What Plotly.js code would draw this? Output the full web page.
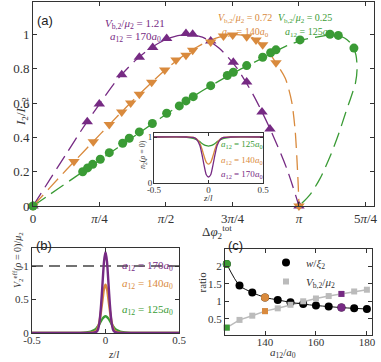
<!DOCTYPE html>
<html>
<head>
<meta charset="utf-8">
<script src="https://cdn.plot.ly/plotly-3.0.1.min.js"></script>
<style>
  html, body { margin: 0; padding: 0; background: #fff; }
  #plot { width: 381px; height: 362px; }
</style>
</head>
<body>
<div id="plot"></div>
<script>
// ---- panel (a): simulation points, I2/Ic,2 vs total phase drop ----
const purpleX = [0, 0.641, 0.783, 1.048, 1.256, 1.414, 1.579, 1.807, 1.886, 2.099, 2.366, 2.524, 2.705, 2.799, 3.1416];
const purpleY = [0, 0.492, 0.595, 0.765, 0.868, 0.924, 0.977, 1.006, 1.002, 0.963, 0.839, 0.724, 0.548, 0.449, 0];
const orangeX = [0, 0.484, 0.712, 0.901, 1.048, 1.154, 1.256, 1.402, 1.556, 1.689, 1.807, 1.886, 2.099, 2.250, 2.359, 2.524, 2.634, 2.713, 2.870, 3.1416];
const orangeY = [0, 0.259, 0.375, 0.476, 0.549, 0.601, 0.652, 0.722, 0.794, 0.852, 0.879, 0.908, 0.957, 0.992, 0.998, 0.988, 0.969, 0.940, 0.835, 0];
const greenX = [0, 0.587, 0.645, 0.705, 0.795, 0.901, 1.059, 1.137, 1.256, 1.410, 1.579, 1.728, 1.807, 1.893, 2.099, 2.295, 2.366, 2.524, 2.713, 2.807, 2.870, 3.154, 3.508, 3.606, 3.791];
const greenY = [0, 0.200, 0.222, 0.243, 0.273, 0.311, 0.366, 0.395, 0.432, 0.481, 0.541, 0.584, 0.613, 0.638, 0.702, 0.761, 0.780, 0.819, 0.868, 0.894, 0.911, 0.969, 1.002, 0.995, 0.921];

// dashed theory curves
const purpleCurveX = [0, 0.2, 0.4, 0.6, 0.8, 1.0, 1.2, 1.4, 1.6, 1.8, 2.0, 2.2, 2.4, 2.6, 2.8, 3.0, 3.1416];
const purpleCurveY = [0, 0.155, 0.31, 0.463, 0.605, 0.74, 0.845, 0.925, 0.978, 1.0, 0.985, 0.92, 0.81, 0.65, 0.45, 0.215, 0];
const orangeCurveX = [0, 0.2, 0.4, 0.6, 0.8, 1.0, 1.2, 1.4, 1.6, 1.8, 2.0, 2.2, 2.4, 2.6, 2.75, 2.87, 2.98, 3.055, 3.095, 3.117, 3.133, 3.1416];
const orangeCurveY = [0, 0.107, 0.214, 0.318, 0.422, 0.525, 0.625, 0.72, 0.81, 0.885, 0.945, 0.985, 1.0, 0.98, 0.92, 0.835, 0.745, 0.61, 0.45, 0.28, 0.12, 0];
const greenCurveX = [0, 0.2, 0.4, 0.6, 0.8, 1.0, 1.2, 1.4, 1.6, 1.8, 2.0, 2.2, 2.4, 2.6, 2.8, 3.0, 3.2, 3.4, 3.55, 3.68, 3.77, 3.815, 3.828, 3.81, 3.76, 3.69, 3.61, 3.51, 3.39, 3.27, 3.1416];
const greenCurveY = [0, 0.068, 0.136, 0.204, 0.272, 0.34, 0.408, 0.476, 0.544, 0.61, 0.672, 0.73, 0.785, 0.835, 0.885, 0.935, 0.97, 0.99, 1.0, 0.98, 0.94, 0.88, 0.8, 0.72, 0.64, 0.54, 0.42, 0.29, 0.16, 0.065, 0];

const phaseTicks = [0, Math.PI / 4, Math.PI / 2, 3 * Math.PI / 4, Math.PI, 5 * Math.PI / 4];
const phaseLabels = ['0', '<i>π</i>/4', '<i>π</i>/2', '3<i>π</i>/4', '<i>π</i>', '5<i>π</i>/4'];

// ---- inset: density at the barrier centre ----
const insetZ = [-0.5, -0.2, -0.14, -0.11, -0.08, -0.06, -0.04, -0.02, 0, 0.02, 0.04, 0.06, 0.08, 0.11, 0.14, 0.2, 0.5];
const n2Purple = [1, 1, 0.99, 0.95, 0.82, 0.62, 0.38, 0.18, 0.13, 0.18, 0.38, 0.62, 0.82, 0.95, 0.99, 1, 1];
const n2Orange = [1, 1, 0.99, 0.96, 0.87, 0.74, 0.58, 0.45, 0.41, 0.45, 0.58, 0.74, 0.87, 0.96, 0.99, 1, 1];
const n2Green = [1, 0.995, 0.97, 0.94, 0.9, 0.86, 0.83, 0.81, 0.8, 0.81, 0.83, 0.86, 0.9, 0.94, 0.97, 0.995, 1];

// ---- panel (b): effective barrier ----
const bZ = [-0.5, -0.2, -0.15, -0.12, -0.1, -0.08, -0.06, -0.05, -0.04, -0.03, -0.02, -0.01, 0, 0.01, 0.02, 0.03, 0.04, 0.05, 0.06, 0.08, 0.1, 0.12, 0.15, 0.2, 0.5];
const vPurple = [0, 0, 0, 0, 0, 0.005, 0.02, 0.06, 0.18, 0.42, 0.75, 1.07, 1.21, 1.07, 0.75, 0.42, 0.18, 0.06, 0.02, 0.005, 0, 0, 0, 0, 0];
const vOrange = [0, 0, 0, 0, 0.003, 0.012, 0.04, 0.09, 0.18, 0.33, 0.5, 0.66, 0.72, 0.66, 0.5, 0.33, 0.18, 0.09, 0.04, 0.012, 0.003, 0, 0, 0, 0];
const vGreen = [0, 0, 0.005, 0.012, 0.022, 0.04, 0.075, 0.105, 0.14, 0.18, 0.215, 0.24, 0.25, 0.24, 0.215, 0.18, 0.14, 0.105, 0.075, 0.04, 0.022, 0.012, 0.005, 0, 0];

// ---- panel (c): ratios vs a12 ----
const a12 = [125, 130, 135, 140, 145, 150, 155, 160, 165, 170, 175, 180];
const wRatio = [2.06, 1.45, 1.25, 1.11, 1.04, 0.97, 0.92, 0.88, 0.85, 0.82, 0.80, 0.78];
const vRatio = [0.25, 0.47, 0.59, 0.72, 0.80, 0.90, 1.00, 1.08, 1.15, 1.21, 1.28, 1.33];
const highlighted = [125, 140, 170];

const PURPLE = '#762a83';
const ORANGE = '#d98a3d';
const GREEN = '#3a9b35';
const highlightColors = {125: GREEN, 140: ORANGE, 170: PURPLE};
const SERIF = 'Liberation Serif, DejaVu Serif, serif';
const SANS = 'Liberation Sans, Arial, sans-serif';

const dash = '15px,7px';
let traces = [];

// theory curves in (a)
[[purpleCurveX, purpleCurveY, PURPLE], [orangeCurveX, orangeCurveY, ORANGE], [greenCurveX, greenCurveY, GREEN]].forEach(c => {
    traces.push({
        x: c[0], y: c[1], xaxis: 'x', yaxis: 'y', type: 'scatter', mode: 'lines',
        line: {color: c[2], width: 1.3, dash: dash, shape: 'spline', smoothing: 0.8},
        showlegend: false, hoverinfo: 'skip'
    });
});
// simulation markers in (a)
[[purpleX, purpleY, PURPLE, 'triangle-up'], [orangeX, orangeY, ORANGE, 'triangle-down'], [greenX, greenY, GREEN, 'circle']].forEach(s => {
    traces.push({
        x: s[0], y: s[1], xaxis: 'x', yaxis: 'y', type: 'scatter', mode: 'markers',
        marker: {color: s[2], symbol: s[3], size: s[3] == 'circle' ? 9 : 10},
        cliponaxis: false, showlegend: false
    });
});

// inset
[[n2Green, GREEN], [n2Orange, ORANGE], [n2Purple, PURPLE]].forEach(c => {
    traces.push({
        x: insetZ, y: c[0], xaxis: 'x2', yaxis: 'y2', type: 'scatter', mode: 'lines',
        line: {color: c[1], width: 1.3, shape: 'spline', smoothing: 0.7},
        showlegend: false
    });
});

// panel (b)
traces.push({
    x: [-0.5, 0.5], y: [1, 1], xaxis: 'x3', yaxis: 'y3', type: 'scatter', mode: 'lines',
    line: {color: '#444', width: 1.6, dash: '11px,6px'}, showlegend: false
});
[[vGreen, GREEN], [vOrange, ORANGE], [vPurple, PURPLE]].forEach(c => {
    traces.push({
        x: bZ, y: c[0], xaxis: 'x3', yaxis: 'y3', type: 'scatter', mode: 'lines',
        line: {color: c[1], width: 2.4, shape: 'spline', smoothing: 0.6},
        showlegend: false
    });
});

// panel (c)
traces.push({
    x: a12, y: vRatio, xaxis: 'x4', yaxis: 'y4', type: 'scatter', mode: 'lines',
    line: {color: '#bbbbbb', width: 1.5}, showlegend: false
});
traces.push({
    x: a12, y: wRatio, xaxis: 'x4', yaxis: 'y4', type: 'scatter', mode: 'lines',
    line: {color: '#111', width: 1, shape: 'spline', smoothing: 0.8}, showlegend: false
});
traces.push({
    x: a12, y: wRatio, xaxis: 'x4', yaxis: 'y4', type: 'scatter', mode: 'markers',
    marker: {color: '#000', size: 8, symbol: 'circle'}, cliponaxis: false,
    name: '<i>w</i>/<i>ξ</i><sub>2</sub>'
});
traces.push({
    x: a12, y: vRatio, xaxis: 'x4', yaxis: 'y4', type: 'scatter', mode: 'markers',
    marker: {color: '#bbbbbb', size: 6, symbol: 'square'}, cliponaxis: false,
    name: '<i>V</i><sub>b,2</sub>/<i>μ</i><sub>2</sub>'
});
const hiIdx = highlighted.map(a => a12.indexOf(a));
traces.push({
    x: highlighted, y: hiIdx.map(i => wRatio[i]), xaxis: 'x4', yaxis: 'y4', type: 'scatter', mode: 'markers',
    marker: {color: highlighted.map(a => highlightColors[a]), size: 8, symbol: 'circle'},
    cliponaxis: false, showlegend: false
});
traces.push({
    x: highlighted, y: hiIdx.map(i => vRatio[i]), xaxis: 'x4', yaxis: 'y4', type: 'scatter', mode: 'markers',
    marker: {color: highlighted.map(a => highlightColors[a]), size: 6, symbol: 'square'},
    cliponaxis: false, showlegend: false
});

function frame(extra) {
    return Object.assign({
        showline: true, linecolor: '#333', linewidth: 1, mirror: 'ticks',
        ticks: 'inside', ticklen: 4, tickcolor: '#333', showgrid: false, zeroline: false,
        tickfont: {family: SERIF, size: 11, color: '#333'}, fixedrange: true
    }, extra);
}

function px(x) { return x / 381; }
function py(y) { return 1 - y / 362; }

const note = (text, x, y, color, size, extra) => Object.assign({
    text: text, x: px(x), y: py(y), xref: 'paper', yref: 'paper', showarrow: false,
    font: {family: SERIF, size: size, color: color}
}, extra || {});

const panelFont = {family: SANS, size: 13, color: '#222'};
const annotations = [
    note('(a)', 35, 11, '#222', 13, {xanchor: 'left', font: panelFont}),
    note('(b)', 34, 255, '#222', 13, {xanchor: 'left', font: panelFont}),
    note('(c)', 226, 255, '#222', 13, {xanchor: 'left', font: panelFont}),
    note('<i>V</i><sub>b,2</sub>/<i>μ</i><sub>2</sub> = 1.21', 135, 15, PURPLE, 11),
    note('<i>a</i><sub>12</sub> = 170<i>a</i><sub>0</sub>', 135, 28, PURPLE, 11),
    note('<i>V</i><sub>b,2</sub>/<i>μ</i><sub>2</sub> = 0.72', 245, 10, ORANGE, 10),
    note('<i>a</i><sub>12</sub> = 140<i>a</i><sub>0</sub>', 245, 24, ORANGE, 10),
    note('<i>V</i><sub>b,2</sub>/<i>μ</i><sub>2</sub> = 0.25', 334, 10, GREEN, 10),
    note('<i>a</i><sub>12</sub> = 125<i>a</i><sub>0</sub>', 334, 24, GREEN, 10),
    note('<i>a</i><sub>12</sub> = 125<i>a</i><sub>0</sub>', 219, 144, GREEN, 9, {xanchor: 'left'}),
    note('<i>a</i><sub>12</sub> = 140<i>a</i><sub>0</sub>', 219, 161, ORANGE, 9, {xanchor: 'left'}),
    note('<i>a</i><sub>12</sub> = 170<i>a</i><sub>0</sub>', 219, 174, PURPLE, 9, {xanchor: 'left'}),
    note('<i>a</i><sub>12</sub> = 170<i>a</i><sub>0</sub>', 147, 275, PURPLE, 11),
    note('<i>a</i><sub>12</sub> = 140<i>a</i><sub>0</sub>', 147, 293, ORANGE, 11),
    note('<i>a</i><sub>12</sub> = 125<i>a</i><sub>0</sub>', 147, 319, GREEN, 11),
    // axis titles
    note('<i>I</i><sub>2</sub>/<i>I</i><sub>c,2</sub>', 11, 95, '#333', 13, {textangle: -90}),
    note('Δ<i>φ</i><sub>2</sub><sup>tot</sup>', 217, 232, '#333', 13),
    note('<i>n</i><sub>2</sub>(<i>ρ</i> = 0)', 143, 155, '#333', 8, {textangle: -90}),
    note('<i>z</i>/<i>l</i>', 208, 198, '#333', 9),
    note('<i>V</i><sub>2</sub><sup>eff</sup>(<i>ρ</i> = 0)/<i>μ</i><sub>2</sub>', 9, 290, '#333', 10, {textangle: -90}),
    note('<i>z</i>/<i>l</i>', 106, 362, '#333', 11, {yanchor: 'bottom'}),
    note('<i>a</i><sub>12</sub>/<i>a</i><sub>0</sub>', 298, 362, '#333', 11, {yanchor: 'bottom'}),
    note('ratio', 201, 294, '#333', 11, {textangle: -90})
];

const layout = {
    width: 381, height: 362,
    margin: {l: 0, r: 0, t: 0, b: 0},
    paper_bgcolor: '#fff', plot_bgcolor: '#fff',
    showlegend: true,
    legend: {
        x: px(266), y: py(248), xanchor: 'left', yanchor: 'top',
        bgcolor: 'rgba(0,0,0,0)', font: {family: SERIF, size: 11, color: '#333'},
        itemwidth: 30, tracegroupgap: 0
    },
    xaxis: frame({domain: [px(33), px(374)], range: [0, 4.028], anchor: 'y',
        tickvals: phaseTicks, ticktext: phaseLabels, tickfont: {family: SERIF, size: 13, color: '#333'}}),
    yaxis: frame({domain: [py(206), py(2)], range: [0, 1.19], anchor: 'x',
        tickvals: [0, 0.2, 0.4, 0.6, 0.8, 1], ticktext: ['0', '0.2', '0.4', '0.6', '0.8', '1'],
        tickfont: {family: SERIF, size: 13, color: '#333'}}),
    xaxis2: frame({domain: [px(154), px(263)], range: [-0.5, 0.5], anchor: 'y2',
        tickvals: [-0.5, 0, 0.5], ticktext: ['-0.5', '0', '0.5'], ticklen: 3, ticklabelstandoff: -2,
        tickfont: {family: SERIF, size: 9, color: '#333'}}),
    yaxis2: frame({domain: [py(183), py(133)], range: [0, 1.087], anchor: 'x2',
        tickvals: [0, 1], ticktext: ['0', '1'], ticklen: 3, ticklabelstandoff: -1,
        tickfont: {family: SERIF, size: 9, color: '#333'}}),
    xaxis3: frame({domain: [px(32), px(179)], range: [-0.5, 0.5], anchor: 'y3',
        tickvals: [-0.5, 0, 0.5], ticktext: ['-0.5', '0', '0.5'], ticklabelstandoff: -3}),
    yaxis3: frame({domain: [py(333), py(248)], range: [0, 1.27], anchor: 'x3',
        tickvals: [0, 0.5, 1], ticktext: ['0', '0.5', '1']}),
    xaxis4: frame({domain: [px(225), px(372)], range: [124.3, 182], anchor: 'y4',
        tickvals: [140, 160, 180], ticklabelstandoff: -3}),
    yaxis4: frame({domain: [py(335), py(249)], range: [0.04, 2.49], anchor: 'x4',
        tickvals: [0.5, 1, 1.5, 2], ticktext: ['0.5', '1', '1.5', '2']}),
    annotations: annotations
};

Plotly.newPlot('plot', traces, layout, {staticPlot: true, displayModeBar: false});
</script>
</body>
</html>
